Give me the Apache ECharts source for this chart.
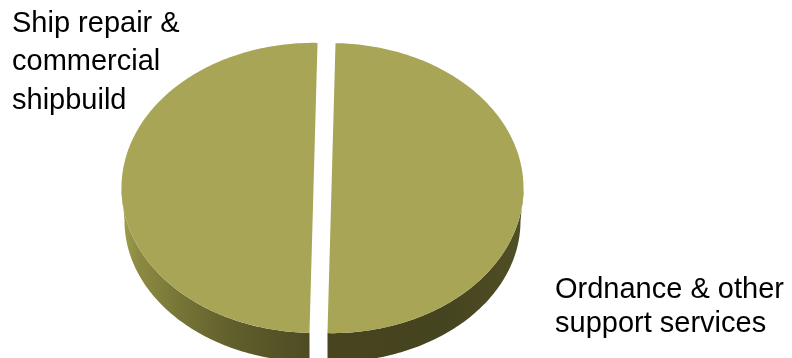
<!DOCTYPE html>
<html>
<head>
<meta charset="utf-8">
<script src="https://cdn.jsdelivr.net/npm/echarts@6/dist/echarts.min.js"></script>
<style>
  html, body { margin: 0; padding: 0; background: #fff; }
  #chart { width: 792px; height: 358px; }
</style>
</head>
<body>
<div id="chart"></div>
<script>
// Segment names (line breaks as shown in the labels) and their shares in percent.
const categories = ['Ordnance & other\nsupport services', 'Ship repair &\ncommercial\nshipbuild'];
const shares = [50, 50];

// Slices run clockwise, the first one starting just past 12 o'clock.
const FIRST_SLICE_ANGLE = -88.8;
const total = shares.reduce((s, v) => s + v, 0);
const startAngles = [];
let acc = FIRST_SLICE_ANGLE;
shares.forEach(v => { startAngles.push(acc); acc += v / total * 360; });

// Tilted-disc geometry (screen pixels); the base ellipse sits lower and a bit
// smaller than the top face to give the disc some perspective.
const PIE = {
  cx: 322.5, cy: 188, rx: 192, ry: 145,
  baseDy: 33, baseRx: 189, baseRy: 141,
  explode: 9
};
const TOP_COLOR = '#a8a656';
const WALL_FILL = {
  type: 'linear', x: 122, y: 0, x2: 525, y2: 0, global: true,
  colorStops: [
    { offset: 0.00, color: '#a09e4d' },
    { offset: 0.04, color: '#8c8a41' },
    { offset: 0.14, color: '#777637' },
    { offset: 0.27, color: '#615f2c' },
    { offset: 0.44, color: '#4f4e25' },
    { offset: 0.52, color: '#46451f' },
    { offset: 0.80, color: '#454420' },
    { offset: 1.00, color: '#504f25' }
  ]
};
const rad = deg => deg * Math.PI / 180;

function renderSlice(params, api) {
  const i = params.dataIndex;
  const sweep = api.value(0) / total * 360;
  const a0 = startAngles[i];
  const a1 = a0 + sweep;
  const mid = rad((a0 + a1) / 2);
  // pull the slice out along its bisector
  const ox = PIE.cx + PIE.explode * Math.cos(mid);
  const oy = PIE.cy + PIE.explode * Math.sin(mid) * PIE.ry / PIE.rx;
  const topPt = deg => [ox + PIE.rx * Math.cos(rad(deg)), oy + PIE.ry * Math.sin(rad(deg))];
  const basePt = deg => [ox + PIE.baseRx * Math.cos(rad(deg)), oy + PIE.baseDy + PIE.baseRy * Math.sin(rad(deg))];
  const arc = (fn, from, to) => {
    const pts = [];
    const n = Math.max(2, Math.ceil(Math.abs(to - from)));
    for (let k = 0; k <= n; k++) pts.push(fn(from + (to - from) * k / n));
    return pts;
  };
  const children = [];

  // outer rim, front half only
  const w0 = Math.max(a0, 0);
  const w1 = Math.min(a1, 180);
  if (w1 > w0) {
    children.push({
      type: 'polygon',
      shape: { points: arc(topPt, w0, w1).concat(arc(basePt, w1, w0)) },
      style: { fill: WALL_FILL }
    });
  }

  // top face
  children.push({
    type: 'polygon',
    shape: { points: [[ox, oy]].concat(arc(topPt, a0, a1)) },
    style: { fill: TOP_COLOR }
  });
  return { type: 'group', children };
}

const chart = echarts.init(document.getElementById('chart'), null, { renderer: 'canvas' });
chart.setOption({
  animation: false,
  backgroundColor: '#ffffff',
  series: [{
    type: 'custom',
    coordinateSystem: 'none',
    renderItem: renderSlice,
    data: shares.map((v, i) => ({ name: categories[i], value: [v] }))
  }],
  graphic: [
    {
      type: 'text', left: 12, top: 4.5,
      style: { text: categories[1], fontSize: 29, fontFamily: 'Liberation Sans', lineHeight: 38.5, fill: '#000' }
    },
    {
      type: 'text', left: 555, top: 273,
      style: { text: categories[0], fontSize: 29, fontFamily: 'Liberation Sans', lineHeight: 34, fill: '#000' }
    }
  ]
});
</script>
</body>
</html>
